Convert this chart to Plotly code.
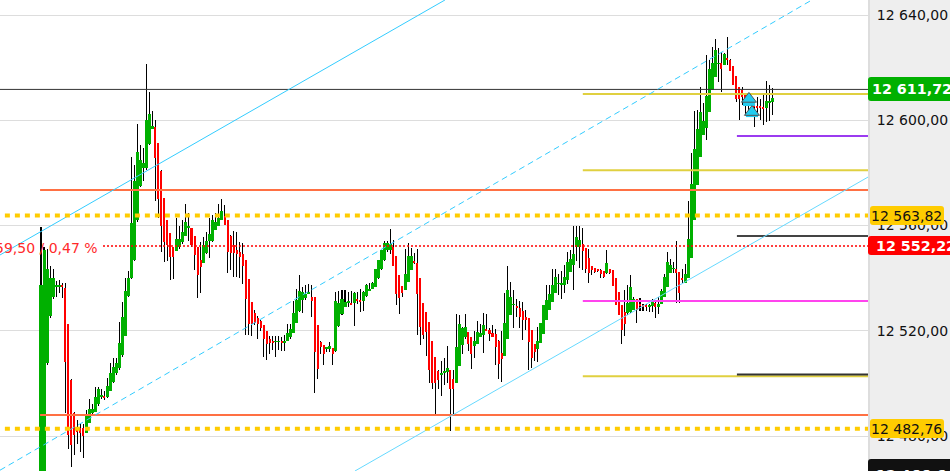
import numpy as np
import plotly.graph_objects as go

# OHLC, candle by candle
opens = [
    12462,12463,12507.6,12525.7,12532.9,12536.8,12536.9,12537.1,12536.4,12522.5,
    12501.2,12488.6,12483.5,12482.9,12482.9,12481.3,12485,12488.6,12489.2,12492.3,
    12494.9,12495.3,12494.9,12497.2,12500.6,12503.8,12505.9,12510.7,12518.1,12533.3,
    12540,12546.9,12562,12575,12582,12582,12591,12596.7,12597.3,12591.2,
    12580.7,12570.3,12562,12557,12552,12550.4,12551.9,12553.8,12556,12558.9,
    12558.9,12556,12551.9,12546.9,12545.9,12549.4,12554,12554,12558.3,12559.9,
    12562,12563.6,12562,12556,12552.6,12550.7,12550,12549.1,12546.9,12539.6,
    12531,12526.6,12525,12523.8,12522.1,12519.9,12517,12516,12515.8,12515.9,
    12515.9,12515.6,12516.1,12517.7,12519.2,12523,12527.6,12531.6,12532.3,12534.3,
    12532.7,12532.7,12522,12515.8,12514.5,12513.4,12513,12513.5,12512.4,12521.9,
    12526.3,12528.9,12530.7,12530.4,12530.4,12531.9,12531.6,12531.3,12533.2,12535,
    12536,12536.7,12539.9,12543.4,12546.8,12550.6,12550.6,12552,12548.4,12541.2,
    12537,12535.4,12538.6,12543,12546.2,12545.8,12540.1,12530.6,12527.2,12523.4,
    12516.2,12510,12504.7,12503,12503.8,12504.4,12505,12501.6,12500,12506.7,
    12514.5,12517.7,12519.6,12517.7,12514.3,12514.9,12517.7,12518.3,12520.4,12520.2,
    12519,12518.7,12516.2,12511.4,12510.5,12516.8,12526,12529.8,12529.4,12528.8,
    12527.6,12525.3,12525,12520.2,12514.9,12513,12515.2,12518.7,12524,12527.9,
    12531,12534.2,12537.8,12537.7,12537.3,12539.2,12542.4,12545,12552,12552,
    12553,12551.3,12547.5,12544.6,12543.9,12543.3,12543,12542.8,12541.8,12543.3,
    12543,12540.1,12534.7,12529.7,12527,12526.6,12527.2,12527.9,12532,12529.8,
    12529.6,12529.5,12528.9,12529.4,12530.4,12529.4,12530,12532.7,12536.7,12541.8,
    12543.6,12543.5,12542.2,12540,12538,12539.9,12547.7,12562,12575.4,12586.1,
    12594.4,12597.2,12603.3,12611.5,12616.6,12621.5,12621.6,12621,12623.3,12622.9,
    12620.6,12616.8,12612.5,12611.5,12610,12608,12606,12605.6,12605.3,12605.1,
    12604.8,12604.8,12606.8,12607,
]
closes = [
    12537.4,12550.6,12543.4,12539.9,12539.9,12537.1,12537.1,12536.9,12508.2,12480.3,
    12476.5,12480.3,12481.6,12481,12480,12487.9,12490.4,12490.4,12494.9,12497.8,
    12495.5,12494.5,12499,12504.1,12506.3,12507.6,12515.2,12525.3,12535.1,12539.9,
    12560.8,12576.9,12588,12585,12583.6,12600,12602.4,12598,12585.8,12570,
    12559.9,12553.8,12552.6,12548,12547.9,12554.7,12554.7,12557.6,12561.4,12559.8,
    12552.6,12548.8,12541.2,12544.3,12552.6,12554,12556.7,12562,12561.4,12563,
    12565.4,12560.2,12550,12549.6,12549.6,12549.1,12548.1,12544.7,12532,12522.5,
    12522.5,12522.8,12522.5,12520.9,12517,12514.8,12515.2,12515.3,12516,12516,
    12515.6,12516.2,12519.2,12520.6,12526.6,12531.6,12535.2,12534.8,12534,12534.4,
    12531.3,12512,12505.3,12513.8,12511,12513.6,12514.1,12511,12531.3,12530.4,
    12531.9,12531,12531,12529.8,12534.4,12531.3,12531,12534.8,12537.3,12536,
    12538,12543.3,12546.8,12550.6,12553.2,12553.2,12553,12544.6,12534,12532.3,
    12534.2,12541.5,12548.4,12548.4,12545.8,12534,12521.5,12518.3,12519.6,12505,
    12500.2,12500,12501.2,12503.8,12504.7,12506,12498,12497.8,12513.9,12522.5,
    12520.9,12521.5,12515,12511,12516.2,12519.6,12519,12522.1,12520.2,12518.7,
    12517.7,12513.9,12507.3,12509.2,12522.8,12535.5,12532.7,12530,12528.5,12525.3,
    12524,12524,12515.8,12509.7,12511.8,12516.1,12522.8,12529.7,12531.6,12533.9,
    12537.4,12540.5,12538,12538.2,12540.3,12546.2,12547.2,12549.1,12555.5,12554.5,
    12550.4,12543.3,12541.8,12543,12542.4,12542.8,12541.7,12540.3,12545.8,12542,
    12537.1,12529.7,12526,12520.2,12522.5,12530.4,12536.7,12532,12527.9,12529.5,
    12529.3,12529.2,12529.8,12531.3,12528.9,12530.1,12535.2,12540.5,12546.2,12545,
    12543.8,12541.8,12534.4,12539.6,12541.4,12554.8,12575.7,12589,12596.7,12603,
    12599.8,12609.3,12619.5,12621.9,12626.7,12621.7,12619.5,12625.2,12623,12618.8,
    12613.4,12608.1,12608,12609,12605.8,12606,12605.4,12605.2,12605,12604.8,
    12604.5,12607.3,12607.3,12608.3,
]
highs = [
    12559.3,12552,12551,12544.6,12543.4,12539,12539.2,12538,12538,12522.5,
    12501.5,12489,12486,12484.7,12484.5,12489.8,12493.9,12492.3,12498.7,12498.7,
    12498,12497,12501.9,12507.6,12509.5,12509.5,12523.4,12531,12539.9,12542.7,
    12586,12583,12598.6,12590.6,12589.3,12621.4,12610.9,12603.5,12600,12591.5,
    12581,12570.5,12562,12557,12552,12563,12559.9,12562,12568.1,12564.6,
    12559,12556,12552,12553.8,12555.7,12557.6,12562.7,12564,12564.6,12568.1,
    12570,12567.8,12562,12556.4,12557.9,12557.4,12553.8,12553.4,12546.9,12539.6,
    12531,12527.8,12525.7,12524,12522.1,12519.9,12518,12518,12518,12518,
    12517.7,12518.3,12522.5,12522.5,12531.3,12535.8,12541.2,12536.7,12537.3,12537.7,
    12537.3,12532.7,12522,12516.2,12514.5,12514,12515.6,12513.5,12534.8,12535,
    12535.6,12535.6,12534.8,12535,12534.8,12534.8,12535.7,12535,12537.6,12538,
    12538.5,12543.5,12547,12550.7,12554.2,12554.2,12558.6,12554.5,12548.4,12541.2,
    12537,12550.9,12553.4,12551.3,12549.4,12550.9,12540.1,12530.6,12527.2,12523.4,
    12516.2,12510,12505,12508.5,12509.5,12514.1,12505,12505,12526.2,12526,
    12521.5,12526.2,12519.6,12517.7,12519.9,12523.7,12522.5,12526.6,12526.2,12520.9,
    12522.1,12520.5,12516.5,12519.9,12534.4,12544.7,12538.6,12535.5,12531.9,12531.4,
    12531,12527.9,12525,12520.2,12514.9,12521.5,12523,12529.7,12537.4,12537.4,
    12543.4,12543.4,12541.4,12542.8,12545,12550,12550.7,12559.8,12559.8,12559.8,
    12558.9,12551.3,12550.9,12544.6,12543.9,12543.3,12543.3,12542.8,12550.7,12543.3,
    12543,12540.1,12534.7,12529.7,12535.5,12537.3,12541.2,12533,12532.2,12532.3,
    12530,12530,12530,12532,12531,12533,12536,12541.5,12550,12547.1,
    12546,12554.2,12542.3,12543.3,12545.5,12569.3,12587.4,12603.5,12603.9,12612.5,
    12606.4,12624.8,12622.9,12627.7,12630.9,12627.3,12626,12625.4,12631.5,12623.2,
    12620.6,12616.8,12612.5,12612.8,12610,12608.7,12608,12605.8,12609,12608,
    12609.6,12614.9,12613.4,12612.1,
]
lows = [
    12460,12460,12507,12525,12532,12533,12534.2,12532.5,12488.6,12475.2,
    12468.3,12472.7,12477,12474,12471.8,12481,12485,12488,12489,12491.5,
    12494,12493.5,12494.5,12497,12500,12503,12505,12510,12518,12533,
    12539.5,12546.5,12561.5,12574.5,12577,12581,12590.5,12596.5,12569.3,12563,
    12550,12546.2,12546.6,12539.3,12539.6,12550.4,12551,12553,12556,12554,
    12552,12543,12532.5,12534.2,12545.6,12549.1,12547.5,12553.8,12558.3,12559.7,
    12562,12560.1,12542,12543,12540.5,12540.5,12540,12537.7,12518.3,12518.3,
    12518,12522,12517,12520,12510.1,12509,12511,12512.6,12510,12512.6,
    12512.4,12512.4,12516,12517,12519,12523,12527,12526.6,12531.6,12534.2,
    12525.3,12496.4,12501.6,12511,12507,12512,12512,12507,12512,12521.5,
    12526,12528.9,12528.9,12529.7,12521.8,12530,12527.2,12527.5,12533,12535,
    12536,12536.7,12539.5,12543,12546.5,12550,12549,12544.6,12529.7,12526.3,
    12532.7,12535.4,12538.6,12543,12545.5,12518.3,12514.5,12517,12510.4,12500.2,
    12498,12488.3,12498,12495.3,12499.3,12500,12482,12488.3,12500,12506.7,
    12511,12517,12512.3,12505.4,12509.7,12514.9,12517.7,12511.4,12519.8,12516.1,
    12517.7,12507,12501.6,12500.6,12510.5,12516.8,12526,12520.9,12525.3,12520.9,
    12516.4,12520.2,12505,12506,12508.5,12508.2,12515.2,12518.7,12524,12527.9,
    12531,12534.2,12533.5,12531.9,12534.4,12537.7,12542.4,12535.5,12546.6,12543.7,
    12543,12542,12538.2,12541.2,12541.8,12542.4,12540,12540,12541.5,12541.5,
    12537.1,12529.7,12526,12514.9,12518,12526,12526.6,12527.9,12522.8,12527.6,
    12527.5,12527.5,12527,12527,12524.8,12526.3,12530,12532.7,12536.7,12541.8,
    12542,12530.6,12530.6,12538,12538,12539.9,12547.7,12562,12575.4,12586,
    12594.4,12592.5,12611,12611.5,12616.3,12614.7,12610.6,12620.9,12621,12618.8,
    12613.4,12607,12600.1,12605.8,12602,12602,12601.1,12597.5,12601.1,12600.1,
    12598.2,12599.5,12599.8,12602,
]

# horizontal levels
level_prices = [12611.72, 12610, 12594, 12581, 12573.5, 12556, 12531.3, 12502.7, 12503.4, 12488]
level_starts = [-14, 180, 231.2, 180, -0.3, 231.2, 180, 180, 231.2, -0.3]
level_colors = ['#333333', '#e0d040', '#9b3bf0', '#e0d040', '#ff7043', '#444444', '#ff44ee', '#e0d040', '#333333', '#ff7043']
level_widths = [1, 2, 2, 2, 2, 2, 2, 2, 2, 2]

gold_prices = [12563.82, 12482.76]
last_price = 12552.22

# trend lines (candle index, price)
trend_up_x = [-13.62, 134.2]
trend_up_y = [12548.8, 12645.7]
trend_low_x = [104.3, 274.75]
trend_low_y = [12466.7, 12578.4]
trend_dash_x = [-13.62, 256.1]
trend_dash_y = [12467, 12645.7]

# cyan arrows: head centre, then the short stem under each head
arrow_x = [235.2, 236.2]
arrow_y = [12608.1, 12603.1]
stem_top = [12607.3, 12602.4]
stem_bottom = [12605.4, 12601.2]

y_ticks = [12640, 12600, 12560, 12520, 12480]
y_labels = ['12 640,00', '12 600,00', '12 560,00', '12 520,00', '12 480,00']

idx = np.arange(len(opens))
o = np.array(opens)
c = np.array(closes)
body_colors = ['#00b000' if b >= a else '#ff0000' for a, b in zip(opens, closes)]
# green bodies are 3 px in the original, red ones 2 px
body_widths = [1.0 if b >= a else 0.67 for a, b in zip(opens, closes)]

fig = go.Figure()

# wicks first so the bodies sit on top of them
# very narrow bars get expanded to exactly 1 px by plotly, 0.33 came out 2 px
fig.add_trace(go.Bar(x=idx, y=np.array(highs) - np.array(lows), base=lows, width=0.01,
                     marker=dict(color='black', line_width=0), hoverinfo='skip'))
fig.add_trace(go.Bar(x=idx, y=c - o, base=opens, width=body_widths,
                     marker=dict(color=body_colors, line_width=0), hoverinfo='skip'))

for p, s, col, w in zip(level_prices, level_starts, level_colors, level_widths):
    fig.add_trace(go.Scatter(x=[s, 274.75], y=[p, p], mode='lines',
                             line=dict(color=col, width=w), hoverinfo='skip'))

fig.add_trace(go.Scatter(x=trend_up_x, y=trend_up_y, mode='lines',
                         line=dict(color='#33ccff', width=1), hoverinfo='skip'))
fig.add_trace(go.Scatter(x=trend_low_x, y=trend_low_y, mode='lines',
                         line=dict(color='#66d9ff', width=1), hoverinfo='skip'))
fig.add_trace(go.Scatter(x=trend_dash_x, y=trend_dash_y, mode='lines',
                         line=dict(color='#33ccff', width=1, dash='6px,4px'), hoverinfo='skip'))

# dotted levels
for p in gold_prices:
    fig.add_trace(go.Scatter(x=[-12, 274.75], y=[p, p], mode='lines',
                             line=dict(color='#ffcc00', width=4, dash='5px,5px'), hoverinfo='skip'))
fig.add_trace(go.Scatter(x=[20.6, 274.75], y=[last_price, last_price], mode='lines',
                         line=dict(color='#ff0000', width=1.5, dash='2px,2px'), hoverinfo='skip'))

# cyan up arrows
for ax_i, top, bottom in zip(arrow_x, stem_top, stem_bottom):
    fig.add_trace(go.Scatter(x=[ax_i, ax_i], y=[top, bottom], mode='lines',
                             line=dict(color='#22ccf0', width=12), hoverinfo='skip'))
fig.add_trace(go.Scatter(x=arrow_x, y=arrow_y, mode='markers',
                         marker=dict(symbol='triangle-up', size=13, color='#22ccf0', line=dict(color='#555555', width=1)),
                         hoverinfo='skip'))


def px_x(v):
    return v / 868


def px_y(v):
    return 1 - v / 471


def tag(text, x0, x1, y0, y1, bg, color, bold, text_x):
    r = 3
    path = (f"M {px_x(x0 + r)} {px_y(y0)} L {px_x(x1 - r)} {px_y(y0)} Q {px_x(x1)} {px_y(y0)} {px_x(x1)} {px_y(y0 + r)} "
            f"L {px_x(x1)} {px_y(y1 - r)} Q {px_x(x1)} {px_y(y1)} {px_x(x1 - r)} {px_y(y1)} "
            f"L {px_x(x0 + r)} {px_y(y1)} Q {px_x(x0)} {px_y(y1)} {px_x(x0)} {px_y(y1 - r)} "
            f"L {px_x(x0)} {px_y(y0 + r)} Q {px_x(x0)} {px_y(y0)} {px_x(x0 + r)} {px_y(y0)} Z")
    fig.add_shape(type='path', path=path, xref='paper', yref='paper',
                  fillcolor=bg, line_width=0, layer='above')
    fig.add_annotation(x=px_x(text_x), y=px_y((y0 + y1) / 2), xref='paper', yref='paper',
                       text=f'<b>{text}</b>' if bold else text, showarrow=False,
                       xanchor='left', yanchor='middle', borderpad=0,
                       font=dict(family='DejaVu Sans', size=14.3 if bold else 14, color=color))


tag('12 611,72', 868, 960, 77, 101, '#00b000', 'white', True, 871)
tag('12 563,82', 870, 944, 206, 225, '#ffcc00', '#111111', False, 870.5)
tag('12 552,22', 868, 960, 236, 255, '#ff0000', 'white', True, 875)
tag('12 482,76', 870, 944, 419, 438, '#ffcc00', '#111111', False, 870.5)
tag('12 466,64', 868, 960, 459, 490, '#111111', 'white', True, 875)

fig.add_annotation(x=px_x(98.5), y=px_y(248), xref='paper', yref='paper', text='59,50 / 0,47 %',
                   showarrow=False, xanchor='right', yanchor='middle', borderpad=0,
                   font=dict(family='DejaVu Sans', size=14, color='#ff2a2a'))

fig.update_layout(
    width=950, height=471, autosize=False,
    margin=dict(l=0, r=82, t=0, b=0, autoexpand=False),
    barmode='overlay', bargap=0, showlegend=False,
    plot_bgcolor='white', paper_bgcolor='#eeeeee',
    font=dict(family='DejaVu Sans', size=14, color='#111111'),
)
fig.update_xaxes(range=[-13.62, 274.75], showgrid=False, zeroline=False, showticklabels=False, ticks='')
fig.update_yaxes(range=[12466.7, 12645.7], side='right', tickmode='array', tickvals=y_ticks, ticktext=y_labels,
                 showgrid=True, gridcolor='#dddddd', gridwidth=1, zeroline=False,
                 showline=True, linecolor='#dddddd', linewidth=2, ticks='outside', ticklen=4, tickcolor='rgba(0,0,0,0)',
                 tickfont=dict(family='DejaVu Sans', size=14, color='#111111'))

# page margin would push the plot 8 px off the corner
fig.write_html("out.html", config=dict(displayModeBar=False),
               post_script="document.body.style.margin='0';document.documentElement.style.overflow='hidden';")
